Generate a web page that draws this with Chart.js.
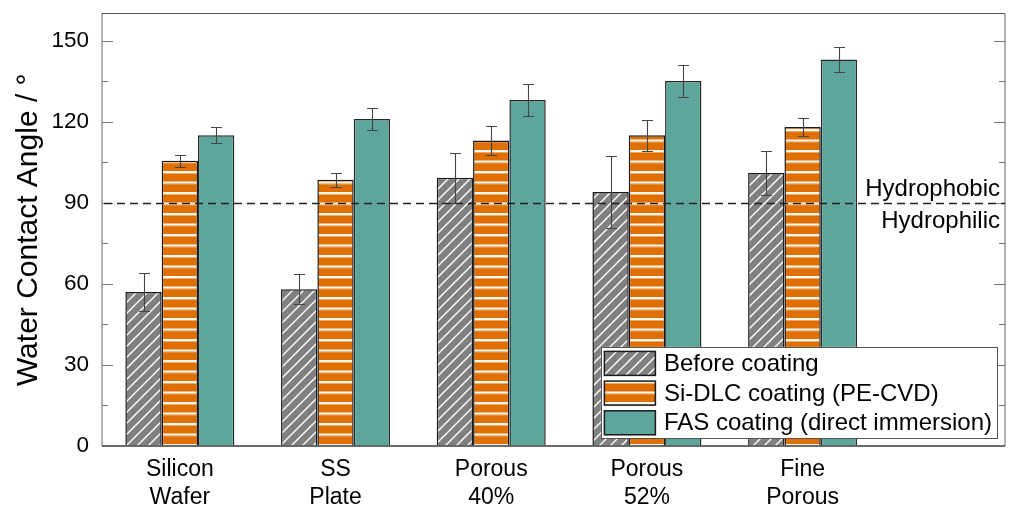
<!DOCTYPE html>
<html>
<head>
<meta charset="utf-8">
<script src="https://cdn.jsdelivr.net/npm/chart.js@4/dist/chart.umd.min.js"></script>
<style>
  html, body { margin: 0; padding: 0; background: #ffffff; }
  #wrap { width: 1013px; height: 509px; position: relative; }
</style>
</head>
<body>
<div id="wrap"><canvas id="chart" width="1013" height="509"></canvas></div>
<script>
// Substrate categories (two-line tick labels)
const categories = [
  ['Silicon', 'Wafer'],
  ['SS', 'Plate'],
  ['Porous', '40%'],
  ['Porous', '52%'],
  ['Fine', 'Porous']
];

// Mean water contact angle (degrees) per substrate
const beforeCoating = [57, 58, 99.2, 94, 101];
const siDlcCoating  = [105.5, 98.5, 113, 115, 118];
const fasCoating    = [115, 121, 128, 135, 143];

// Standard deviation (degrees)
const beforeErr = [7, 5.5, 9.2, 13.2, 8.3];
const siDlcErr  = [2.3, 2.5, 5.3, 5.7, 3.3];
const fasErr    = [3, 4, 6, 6, 4.5];

const seriesNames = [
  'Before coating',
  'Si-DLC coating (PE-CVD)',
  'FAS coating (direct immersion)'
];

// y-axis ticks
const yMajorTicks = [0, 30, 60, 90, 120, 150];
const yMinorTicks = [15, 45, 75, 105, 135];
const thresholdAngle = 90;

const FONT = '"Liberation Sans", Arial, Helvetica, sans-serif';

// ---- fill patterns ----
function makePattern(size, draw) {
  const c = document.createElement('canvas');
  c.width = size.w; c.height = size.h;
  const g = c.getContext('2d');
  draw(g, size.w, size.h);
  return g.createPattern(c, 'repeat');
}

// grey with white diagonal hatching
const hatchGrey = makePattern({ w: 11, h: 11 }, (g, w, h) => {
  g.fillStyle = '#808080';
  g.fillRect(0, 0, w, h);
  g.strokeStyle = '#ffffff';
  g.lineWidth = 1.4;
  g.beginPath();
  g.moveTo(-2, h + 2); g.lineTo(w + 2, -2);
  g.moveTo(-2 - w, h + 2); g.lineTo(2, -2);
  g.moveTo(w - 2, h + 2); g.lineTo(2 * w + 2, -2);
  g.stroke();
});

// orange with white horizontal stripes
const stripeOrange = makePattern({ w: 8, h: 21 }, (g, w, h) => {
  g.fillStyle = '#de6f00';
  g.fillRect(0, 0, w, h);
  g.fillStyle = 'rgba(255,255,255,0.95)';
  g.fillRect(0, 3, w, 2);
  g.fillRect(0, 13.5, w, 2);
  g.fillStyle = 'rgba(255,230,200,0.5)';
  g.fillRect(0, 5, w, 1);
  g.fillRect(0, 15.5, w, 1);
});

// teal with a fine stipple texture
const stippleTeal = makePattern({ w: 4, h: 4 }, (g, w, h) => {
  g.fillStyle = '#5ea69b';
  g.fillRect(0, 0, w, h);
  g.fillStyle = '#6aaea3';
  g.fillRect(0, 0, 1, 1);
  g.fillRect(2, 2, 1, 1);
  g.fillStyle = '#55a094';
  g.fillRect(2, 0, 1, 1);
  g.fillRect(0, 2, 1, 1);
});

const toPoints = arr => arr.map((v, i) => ({ x: i + 1, y: v }));

const datasets = [
  { label: seriesNames[0], data: toPoints(beforeCoating), err: beforeErr,
    backgroundColor: hatchGrey, borderColor: '#1a1a1a' },
  { label: seriesNames[1], data: toPoints(siDlcCoating), err: siDlcErr,
    backgroundColor: stripeOrange, borderColor: '#1a1a1a' },
  { label: seriesNames[2], data: toPoints(fasCoating), err: fasErr,
    backgroundColor: stippleTeal, borderColor: '#2a2a2a' }
];

// ---- plugins ----

// frame with inward tick marks on both vertical sides
const framePlugin = {
  id: 'frame',
  beforeDatasetsDraw(chart) {
    const { ctx, chartArea: a, scales: { y } } = chart;
    ctx.save();
    ctx.strokeStyle = '#9a9a9a';
    ctx.lineWidth = 1.5;
    ctx.beginPath();
    ctx.moveTo(a.left, a.top); ctx.lineTo(a.left, a.bottom);
    ctx.moveTo(a.right, a.top); ctx.lineTo(a.right, a.bottom);
    ctx.stroke();
    ctx.strokeStyle = '#555555';
    ctx.lineWidth = 1.2;
    ctx.beginPath();
    ctx.moveTo(a.left, a.top); ctx.lineTo(a.right, a.top);
    ctx.stroke();
    ctx.strokeStyle = '#777777';
    ctx.lineWidth = 1;
    ctx.beginPath();
    yMajorTicks.forEach(v => {
      if (v === 0) return;
      const py = Math.round(y.getPixelForValue(v)) + 0.5;
      ctx.moveTo(a.left, py); ctx.lineTo(a.left + 11, py);
      ctx.moveTo(a.right, py); ctx.lineTo(a.right - 11, py);
    });
    yMinorTicks.forEach(v => {
      const py = Math.round(y.getPixelForValue(v)) + 0.5;
      ctx.moveTo(a.left, py); ctx.lineTo(a.left + 6, py);
      ctx.moveTo(a.right, py); ctx.lineTo(a.right - 6, py);
    });
    ctx.stroke();
    ctx.restore();
  },
  afterDatasetsDraw(chart) {
    const { ctx, chartArea: a } = chart;
    ctx.save();
    ctx.strokeStyle = '#3a3a3a';
    ctx.lineWidth = 1.6;
    ctx.beginPath();
    ctx.moveTo(a.left, a.bottom); ctx.lineTo(a.right, a.bottom);
    ctx.stroke();
    ctx.restore();
  }
};

// dashed 90 degree threshold with its two labels
const thresholdPlugin = {
  id: 'threshold',
  afterDatasetsDraw(chart) {
    const { ctx, chartArea: a, scales: { y } } = chart;
    const py = Math.round(y.getPixelForValue(thresholdAngle)) + 0.5;
    ctx.save();
    ctx.strokeStyle = '#222222';
    ctx.lineWidth = 1.4;
    ctx.setLineDash([8, 5]);
    ctx.beginPath();
    ctx.moveTo(a.left + 2, py); ctx.lineTo(a.right, py);
    ctx.stroke();
    ctx.setLineDash([]);
    ctx.fillStyle = '#000000';
    ctx.font = '24px ' + FONT;
    ctx.textAlign = 'right';
    ctx.textBaseline = 'alphabetic';
    ctx.fillText('Hydrophobic', a.right - 5, py - 8);
    ctx.fillText('Hydrophilic', a.right - 5, py + 24);
    ctx.restore();
  }
};

// error bars from each dataset's err array
const errorBarPlugin = {
  id: 'errorBars',
  afterDatasetsDraw(chart) {
    const { ctx, scales: { y } } = chart;
    ctx.save();
    ctx.strokeStyle = '#444444';
    ctx.lineWidth = 1.1;
    chart.data.datasets.forEach((ds, di) => {
      const meta = chart.getDatasetMeta(di);
      meta.data.forEach((bar, i) => {
        const v = ds.data[i].y, e = ds.err[i];
        const x = Math.round(bar.x) + 0.5;
        const yt = Math.round(y.getPixelForValue(v + e)) + 0.5;
        const yb = Math.round(y.getPixelForValue(v - e)) + 0.5;
        ctx.beginPath();
        ctx.moveTo(x, yt); ctx.lineTo(x, yb);
        ctx.moveTo(x - 5.5, yt); ctx.lineTo(x + 5.5, yt);
        ctx.moveTo(x - 5.5, yb); ctx.lineTo(x + 5.5, yb);
        ctx.stroke();
      });
    });
    ctx.restore();
  }
};

// boxed legend inside the lower right of the plot
const insetLegendPlugin = {
  id: 'insetLegend',
  afterDraw(chart) {
    const { ctx, chartArea: a } = chart;
    const ds = chart.data.datasets;
    ctx.save();
    ctx.font = '24px ' + FONT;
    const textW = Math.max(...ds.map(d => ctx.measureText(d.label).width));
    const rowH = 29.7, swW = 51, swH = 24;
    const boxW = 3.5 + swW + 8.5 + textW + 5;
    const boxH = 3 * rowH + 2;
    const right = a.right - 8, bottom = a.bottom - 8;
    const left = right - boxW, top = bottom - boxH;
    ctx.fillStyle = '#ffffff';
    ctx.fillRect(left, top, boxW, boxH);
    ctx.strokeStyle = '#555555';
    ctx.lineWidth = 1;
    ctx.strokeRect(Math.round(left) + 0.5, Math.round(top) + 0.5, Math.round(boxW), Math.round(boxH));
    ds.forEach((d, i) => {
      const cy = top + 16.5 + i * rowH;
      const sx = left + 3.5;
      ctx.fillStyle = d.backgroundColor;
      ctx.fillRect(sx, cy - swH / 2, swW, swH);
      ctx.strokeStyle = '#1a1a1a';
      ctx.lineWidth = 1.5;
      ctx.strokeRect(sx, cy - swH / 2, swW, swH);
      ctx.fillStyle = '#000000';
      ctx.textAlign = 'left';
      ctx.textBaseline = 'middle';
      ctx.fillText(d.label, sx + swW + 8.5, cy + 1);
    });
    ctx.restore();
  }
};

new Chart(document.getElementById('chart'), {
  type: 'bar',
  data: { datasets },
  options: {
    responsive: false,
    animation: false,
    devicePixelRatio: 1,
    layout: { padding: { left: 0, top: 0, right: 8, bottom: 0 } },
    categoryPercentage: 0.7,
    barPercentage: 1.0,
    borderWidth: 1.5,
    borderSkipped: 'bottom',
    plugins: { legend: { display: false }, tooltip: { enabled: false } },
    scales: {
      x: {
        type: 'linear',
        offset: false,
        min: 0.5,
        max: 6.3,
        grid: { display: false, drawTicks: false },
        border: { display: false },
        afterBuildTicks: s => { s.ticks = categories.map((_, i) => ({ value: i + 1 })); },
        afterFit: s => { s.height = 63; },
        ticks: {
          padding: 9,
          color: '#000000',
          font: { family: FONT, size: 23, lineHeight: 1.25 },
          maxRotation: 0,
          autoSkip: false,
          callback: v => categories[v - 1] || ''
        }
      },
      y: {
        min: 0,
        max: 160,
        // invisible tick marks reserve the gap between labels and the axis
        grid: {
          display: true,
          drawOnChartArea: false,
          drawTicks: true,
          tickLength: 13,
          tickColor: 'rgba(0,0,0,0)'
        },
        border: { display: false },
        afterBuildTicks: s => { s.ticks = yMajorTicks.map(v => ({ value: v })); },
        afterFit: s => { s.width = 102; },
        ticks: {
          padding: 0,
          color: '#000000',
          font: { family: FONT, size: 22.5 }
        },
        title: {
          display: true,
          text: 'Water Contact Angle / \u00b0',
          color: '#000000',
          font: { family: FONT, size: 30, lineHeight: 1.2 },
          padding: { top: 11, bottom: 0 }
        }
      }
    }
  },
  plugins: [framePlugin, errorBarPlugin, thresholdPlugin, insetLegendPlugin]
});
</script>
</body>
</html>
